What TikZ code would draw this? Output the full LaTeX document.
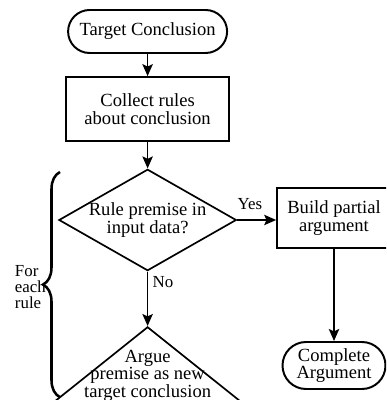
\documentclass[tikz,border=0pt]{standalone}
\usepackage{fontspec}
\setmainfont{Liberation Serif}
\newfontfamily\chartfont{Liberation Serif}
\usetikzlibrary{shapes.geometric,arrows.meta,decorations.pathreplacing}
\begin{document}
\begin{tikzpicture}[every node/.style={font=\chartfont\fontsize{13.2}{12.4}\selectfont},
  box/.style={draw, line width=1.2pt, align=center, inner sep=0pt},
  term/.style={draw, line width=1.4pt, align=center, inner sep=0pt},
  dia/.style={draw, shape=diamond, line width=1.2pt, align=center, inner sep=0pt},
  lbl/.style={font=\chartfont\fontsize{12}{11.4}\selectfont},
  arr/.style={line width=1.2pt, -{Stealth[length=0.3cm, width=0.26cm, inset=0.06cm]}}]
\clip (0,0) rectangle (9.65,10);
% main column
\node[term, rounded corners=0.5375cm, minimum width=3.975cm, minimum height=1.075cm] (target) at (3.69,9.2125) {Target Conclusion};
\node[box, minimum width=4.075cm, minimum height=1.6cm] (collect) at (3.69,7.275) {Collect rules\\about conclusion};
\node[dia, aspect=1.75, minimum width=4.375cm, minimum height=2.5cm] (rule) at (3.69,4.5) {Rule premise in\\input data?};
\node[dia, aspect=1.25, minimum width=6.25cm, minimum height=5cm, anchor=north] (argue) at (3.69,1.85) {};
\node[align=center] (arguetxt) at (3.69,0.6125) {Argue\\premise as new\\target conclusion};
% right column
\node[box, minimum width=2.85cm, minimum height=1.5cm] (build) at (8.35,4.55) {Build partial\\argument};
\node[term, rounded corners=0.5875cm, minimum width=2.575cm, minimum height=1.175cm] (done) at (8.35,0.8625) {Complete\\Argument};
% labels
\node[lbl] (yes) at (6.25,4.9) {Yes};
\node[lbl] (no) at (4.075,2.95) {No};
\node[lbl, align=left, anchor=west] (foreach) at (0.25,2.825) {For\\each\\rule};
% loop brace
\draw[line width=1.8pt, decorate, decoration={brace, amplitude=0.425cm}] (1.5,0.07) -- (1.5,5.7);
% edges
\draw[arr] (target) -- (collect);
\draw[arr] (collect) -- (rule);
\draw[arr] (rule.east) -- (rule.east -| build.west);
\draw[arr] (rule.south) -- (argue.north);
\draw[arr] (build) -- (done);
\end{tikzpicture}
\end{document}
